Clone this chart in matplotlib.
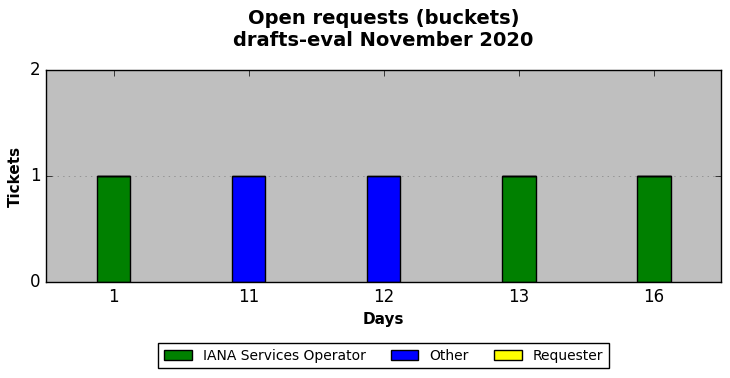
import numpy as np
from matplotlib import pyplot as plt

plt.style.use("classic")

days = ["1", "11", "12", "13", "16"]
iana = [1, 0, 0, 1, 1]
other = [0, 1, 1, 0, 0]
requester = [0, 0, 0, 0, 0]

fig = plt.figure(figsize=(7.3, 3.78), dpi=100, facecolor="white")
ax = fig.add_axes([0.063, 0.254, 0.925, 0.561])
ax.set_facecolor("#bfbfbf")

x = np.arange(len(days))
w = 0.25
b1 = np.array(iana)
b2 = b1 + np.array(other)
ax.bar(x, iana, w, color="green", edgecolor="black", label="IANA Services Operator", align="center")
ax.bar(x, other, w, bottom=b1, color="blue", edgecolor="black", label="Other", align="center")
ax.bar(x, requester, w, bottom=b2, color="yellow", edgecolor="black", label="Requester", align="center")

ax.set_xlim(-0.5, len(days) - 0.5)
ax.set_ylim(0, 2)
ax.set_xticks(x)
ax.set_xticklabels(days)
ax.set_yticks([0, 1, 2])
ax.yaxis.grid(True, linestyle=":", color="gray")
ax.set_axisbelow(True)
ax.tick_params(labelsize=12)

ax.set_xlabel("Days", fontweight="bold", fontsize=11)
ax.set_ylabel("Tickets", fontweight="bold", fontsize=11)
ax.set_title("Open requests (buckets)\ndrafts-eval November 2020", fontweight="bold", fontsize=14, y=1.08)

ax.legend(loc="upper center", bbox_to_anchor=(0.5, -0.255), ncol=3, fontsize=10,
          fancybox=False, handlelength=2.0, columnspacing=1.8)

fig.savefig("out.png", dpi=100, facecolor="white")
